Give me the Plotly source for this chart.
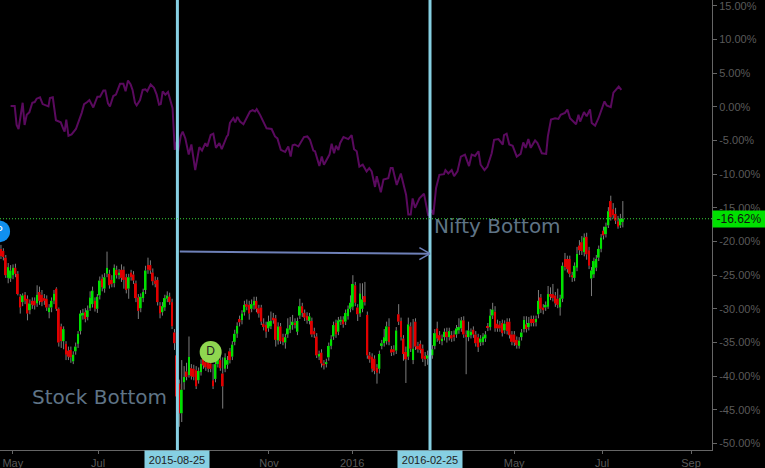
import plotly.graph_objects as go

# Candle data, percent relative to the start; one entry per session
# colour, body top, body bottom, wick high, wick low
RAW = """
R -21.1 -22.2 -20.5 -22.6|R -21.4 -22.3 -21.0 -22.8|R -22.4 -25.0 -22.0 -25.4|G -23.8 -25.4 -23.2 -26.2|G -24.3 -25.5 -23.5 -26.0
G -23.9 -25.0 -23.4 -25.6|R -23.9 -24.8 -23.3 -25.3|R -24.8 -27.8 -24.4 -28.0|R -28.2 -29.8 -27.8 -30.7|G -28.0 -29.0 -27.7 -29.6
R -27.9 -28.8 -27.5 -29.3|R -28.5 -30.7 -28.0 -31.7|G -29.2 -30.2 -28.6 -30.8|R -28.8 -29.4 -28.3 -30.0|R -28.8 -29.5 -28.3 -30.1
G -27.9 -29.2 -26.5 -29.7|R -27.5 -28.8 -26.7 -29.4|R -27.9 -29.0 -27.2 -29.6|R -28.4 -28.8 -27.8 -29.4|R -28.5 -29.8 -28.0 -30.3
G -29.8 -30.5 -29.3 -31.4|G -28.8 -29.8 -28.3 -30.5|G -27.7 -28.8 -27.2 -29.3|R -27.0 -30.0 -26.8 -30.3|R -30.0 -35.0 -29.8 -35.6
R -32.6 -34.8 -32.2 -35.8|G -33.0 -34.8 -32.6 -36.0|R -35.2 -36.8 -34.8 -37.6|R -36.2 -37.1 -35.6 -37.6|R -36.1 -37.2 -35.6 -38.0
G -36.8 -37.8 -36.3 -38.2|G -35.6 -36.3 -35.0 -36.8|G -33.7 -35.2 -33.3 -35.8|G -30.7 -33.3 -30.2 -33.8|G -30.6 -31.0 -30.0 -31.6
R -30.5 -31.5 -29.9 -32.0|G -30.2 -31.2 -29.5 -31.7|G -28.3 -29.9 -27.4 -30.3|G -27.3 -29.3 -26.7 -29.8|R -28.8 -30.0 -28.3 -30.4
G -28.2 -30.0 -27.8 -30.6|G -25.8 -28.0 -25.2 -28.6|R -25.5 -26.8 -24.9 -27.4|G -25.3 -27.0 -24.7 -27.6|G -23.9 -24.8 -21.5 -25.3
R -24.8 -26.5 -24.2 -27.0|R -25.7 -26.3 -25.0 -26.8|G -23.9 -26.2 -23.4 -26.8|R -24.2 -25.0 -23.6 -25.5|G -24.6 -25.0 -24.1 -25.6
R -24.2 -25.4 -23.4 -26.0|R -24.2 -25.7 -23.7 -27.0|R -25.3 -27.2 -24.8 -27.7|G -25.3 -27.0 -24.8 -28.5|R -24.6 -25.3 -24.2 -25.8
R -24.9 -25.8 -24.4 -26.3|R -26.2 -28.4 -25.8 -29.0|R -28.3 -30.3 -27.8 -31.5|G -28.2 -29.9 -27.7 -30.5|G -27.5 -28.4 -27.0 -29.0
G -24.3 -27.2 -23.6 -27.8|R -23.5 -24.2 -22.4 -24.8|R -23.5 -24.3 -22.8 -24.8|R -24.6 -25.9 -24.0 -26.5|R -25.8 -26.3 -25.2 -26.8
R -25.7 -29.0 -25.3 -29.5|R -29.5 -30.7 -29.0 -31.4|G -29.6 -30.5 -29.0 -31.0|G -28.4 -29.8 -27.9 -30.3|G -28.0 -28.5 -27.4 -29.0
R -28.2 -29.0 -27.6 -29.4|R -29.0 -32.6 -28.5 -33.0|R -33.5 -35.1 -33.0 -36.1|R -36.9 -43.0 -36.5 -44.0|R -41.1 -45.5 -40.5 -47.5
G -42.0 -45.5 -37.6 -46.8|G -40.1 -40.9 -38.5 -42.0|R -39.3 -40.1 -38.0 -40.6|G -37.1 -39.8 -34.1 -40.2|R -38.8 -40.0 -38.2 -40.5
R -38.9 -40.1 -38.3 -40.6|R -39.1 -41.5 -38.5 -41.9|G -39.2 -40.6 -38.7 -41.1|G -38.2 -39.4 -37.5 -39.9|R -37.3 -38.4 -36.7 -38.9
R -37.9 -38.7 -37.3 -39.2|R -37.9 -38.9 -37.3 -39.4|R -38.1 -38.9 -37.6 -39.4|R -40.6 -41.5 -38.2 -41.9|G -38.2 -40.4 -37.6 -40.9
G -36.7 -38.2 -35.9 -38.7|R -37.6 -38.8 -37.0 -39.2|R -39.6 -41.5 -37.2 -44.8|G -37.2 -38.9 -36.6 -39.4|G -37.6 -38.3 -37.0 -38.9
R -36.3 -37.6 -35.8 -38.1|G -35.3 -37.1 -34.8 -37.6|G -33.7 -34.9 -33.1 -35.4|G -32.5 -33.7 -32.0 -34.3|R -31.5 -32.0 -31.0 -32.6
G -30.7 -31.7 -30.2 -32.3|G -29.4 -30.5 -28.8 -31.0|R -29.3 -29.7 -28.6 -30.2|R -29.4 -30.7 -28.8 -31.6|G -29.3 -30.0 -28.6 -30.5
G -28.8 -29.5 -28.2 -30.1|R -28.8 -30.0 -28.2 -30.5|R -29.9 -30.7 -29.4 -31.3|R -29.8 -31.9 -29.4 -32.4|R -32.2 -32.7 -31.4 -33.2
R -32.4 -33.4 -31.9 -34.3|G -31.9 -32.9 -31.0 -33.4|G -31.8 -32.6 -30.4 -33.0|R -31.3 -31.7 -30.6 -32.2|R -31.4 -34.6 -30.9 -35.6
G -32.6 -34.7 -32.0 -35.3|R -32.6 -34.8 -32.1 -35.2|R -34.2 -34.9 -33.7 -35.4|G -34.2 -35.0 -33.7 -35.9|G -32.9 -33.8 -31.4 -34.3
G -32.4 -33.1 -31.2 -33.6|G -31.9 -32.4 -30.9 -33.1|R -32.1 -32.4 -31.4 -32.9|G -31.8 -33.4 -31.3 -33.9|G -29.6 -31.0 -28.5 -31.5
R -29.6 -30.6 -29.1 -31.2|R -30.6 -31.3 -30.1 -31.8|R -31.0 -31.7 -30.5 -32.2|G -31.1 -31.8 -30.6 -32.3|R -31.8 -33.8 -31.3 -34.2
R -33.3 -33.8 -32.8 -34.3|R -34.1 -36.9 -33.6 -37.3|G -36.7 -37.1 -36.2 -37.6|R -36.5 -38.1 -36.0 -38.7|R -38.1 -38.4 -37.6 -39.0
G -37.9 -38.2 -37.4 -38.7|G -35.5 -37.2 -35.0 -37.7|G -34.5 -35.5 -33.9 -36.0|G -32.4 -34.1 -31.9 -34.6|R -32.1 -33.8 -31.6 -34.3
G -31.7 -33.4 -31.2 -33.9|G -31.6 -31.9 -31.1 -32.4|R -31.6 -32.3 -31.1 -32.8|G -30.6 -31.9 -30.1 -32.4|G -30.0 -31.1 -29.5 -31.6
G -29.1 -30.0 -28.0 -30.5|G -26.3 -29.7 -25.0 -30.2|R -26.5 -29.1 -26.0 -29.6|R -29.8 -30.8 -29.3 -31.8|G -27.7 -30.7 -26.2 -31.2
G -28.6 -30.0 -26.2 -30.5|R -28.1 -29.0 -26.0 -29.5|R -30.9 -36.9 -30.4 -37.4|R -36.9 -37.5 -36.4 -38.0|R -37.1 -38.9 -36.6 -39.4
R -37.4 -39.2 -36.9 -39.7|R -38.7 -39.5 -38.2 -41.1|G -36.7 -38.9 -36.2 -39.6|G -35.1 -35.5 -34.6 -36.0|G -34.2 -35.1 -33.0 -35.6
G -32.6 -34.8 -31.9 -35.3|R -32.6 -34.9 -31.4 -35.4|R -36.0 -36.5 -35.5 -37.0|R -36.0 -36.4 -35.4 -36.9|G -33.2 -36.2 -32.7 -36.7
R -30.8 -31.9 -29.3 -32.4|R -31.8 -34.2 -31.3 -34.7|R -34.4 -36.7 -33.9 -37.7|R -36.4 -37.5 -35.6 -41.0|G -32.3 -37.1 -31.3 -37.6
R -32.6 -35.9 -32.0 -36.4|G -35.9 -37.6 -31.5 -38.2|R -31.9 -35.6 -31.4 -36.1|R -35.5 -36.0 -34.9 -36.5|R -35.2 -36.1 -34.7 -36.6
R -35.9 -37.4 -35.3 -37.9|R -37.0 -37.5 -36.4 -38.5|G -36.9 -37.4 -36.2 -38.3|R -36.4 -37.4 -35.7 -38.6|G -36.0 -36.9 -35.4 -37.4
G -33.6 -35.5 -33.0 -36.0|R -32.9 -34.4 -31.9 -34.9|R -33.9 -34.7 -33.3 -35.2|G -34.4 -34.8 -33.8 -35.4|G -33.4 -34.2 -32.9 -34.7
R -33.4 -34.2 -32.8 -35.0|G -33.3 -34.2 -32.8 -34.7|R -33.9 -34.4 -33.3 -34.9|R -33.8 -34.2 -33.2 -34.8|G -32.9 -33.8 -32.4 -34.3
G -32.7 -33.2 -31.4 -33.7|G -31.7 -32.9 -31.2 -33.4|R -31.7 -33.8 -31.1 -34.3|R -33.8 -34.2 -33.2 -39.7|G -33.2 -34.2 -31.9 -34.8
G -33.4 -33.9 -32.9 -34.4|R -33.1 -33.8 -32.6 -34.3|R -33.8 -35.1 -33.3 -35.6|R -34.2 -35.7 -33.7 -36.4|G -34.4 -35.0 -33.9 -35.5
G -34.1 -34.9 -33.6 -35.4|G -33.8 -34.4 -33.3 -34.9|R -32.6 -32.8 -32.1 -33.3|G -31.0 -32.7 -30.0 -33.2|G -30.1 -31.0 -29.1 -31.5
R -30.4 -32.9 -29.6 -33.4|R -32.2 -32.9 -31.6 -33.4|R -32.4 -32.9 -31.8 -33.4|R -32.1 -33.6 -31.6 -34.1|G -32.2 -33.2 -31.7 -33.7
R -31.9 -33.3 -31.4 -33.8|R -31.9 -33.9 -31.4 -34.4|R -33.8 -34.9 -33.3 -35.4|R -33.8 -35.0 -33.3 -35.5|R -34.6 -35.4 -34.1 -35.9
G -34.7 -35.5 -34.2 -35.9|G -33.5 -34.2 -33.0 -34.7|G -31.6 -33.0 -31.1 -33.5|R -32.3 -33.0 -31.1 -33.5|G -32.1 -32.7 -31.2 -33.2
R -31.5 -32.1 -31.0 -32.6|R -31.5 -32.1 -31.0 -32.6|G -31.5 -32.0 -31.0 -32.6|G -28.8 -30.8 -27.2 -31.4|R -28.3 -30.0 -27.8 -30.6
R -29.8 -30.2 -29.3 -30.8|G -29.4 -29.8 -28.9 -30.3|G -27.8 -29.7 -26.6 -30.0|R -27.8 -28.2 -26.8 -28.7|R -27.8 -28.4 -26.3 -28.9
R -28.0 -29.2 -27.5 -29.7|R -28.5 -29.4 -27.0 -29.9|G -28.4 -29.8 -27.9 -31.0|G -23.6 -28.5 -23.1 -29.0|R -22.6 -23.8 -21.7 -24.3
R -22.6 -24.1 -22.1 -24.6|R -22.6 -24.8 -22.1 -25.3|R -25.0 -25.3 -24.5 -26.0|G -23.6 -25.4 -23.1 -25.9|G -21.8 -23.9 -20.8 -24.4
R -20.6 -21.3 -19.8 -22.0|R -20.1 -21.4 -19.2 -22.0|G -19.4 -21.6 -18.8 -22.2|R -19.3 -21.9 -18.7 -22.7|R -21.3 -23.6 -20.8 -24.1
G -24.3 -25.5 -23.8 -28.1|G -22.9 -24.9 -22.4 -25.4|G -22.6 -23.9 -22.0 -24.4|G -21.1 -22.4 -20.6 -22.9|G -19.4 -21.1 -18.9 -21.6
R -18.4 -19.1 -17.8 -19.7|G -17.8 -18.9 -17.2 -19.4|G -15.5 -17.6 -14.9 -18.0|R -14.0 -16.4 -13.2 -16.9|R -15.2 -16.1 -14.3 -16.6
R -15.9 -16.9 -15.0 -17.4|R -17.0 -17.8 -16.2 -18.1|G -16.6 -17.6 -15.9 -18.0|G -16.62 -17.1 -14.0 -17.9
"""
rows = [r.split() for line in RAW.strip().splitlines() for r in line.split("|")]
direction = [r[0] for r in rows]
body_top = [float(r[1]) for r in rows]
body_bottom = [float(r[2]) for r in rows]
wick_high = [float(r[3]) for r in rows]
wick_low = [float(r[4]) for r in rows]
sessions = list(range(len(rows)))

nifty_sessions = [4.0,5.7,6.5,7.3,9.0,9.8,10.7,11.8,13.0,14.0,14.8,16.2,17.3,19.7,20.3,21.5,22.8,24.8,25.9,26.4,27.1,28.0,29.3,31.1,33.5,34.5,35.8,36.7,38.3,40.0,41.1,42.5,43.3,44.4,45.2,46.6,47.7,49.4,50.8,51.7,52.7,53.8,54.6,55.6,56.3,57.7,58.8,59.9,60.7,62.1,63.5,64.6,65.6,66.3,67.1,68.2,69.3,71.2,72.1,72.9,73.5,74.6,75.4,76.5,77.9,79.0,80.6,82.3,83.4,84.8,85.6,87.0,88.1,89.2,90.6,91.6,93.7,94.2,95.0,96.4,97.2,98.1,99.2,100.6,103.3,104.4,105.4,106.1,107.5,110.2,112.3,113.7,114.7,116.1,117.9,119.2,120.2,121.0,121.9,123.4,125.7,127.1,128.2,129.6,130.3,132.1,133.1,134.0,136.3,137.2,138.2,139.0,140.0,140.7,142.1,143.2,144.1,145.5,146.5,147.6,148.7,150.1,151.7,152.8,153.8,155.2,155.9,157.6,158.7,160.7,161.7,162.5,164.2,165.9,168.1,169.0,170.0,170.8,171.8,173.6,175.5,177.3,178.6,179.4,180.5,181.9,183.8,184.4,185.6,187.0,188.0,189.4,190.8,192.5,194.2,195.3,196.7,198.1,199.0,200.6,201.8,203.6,204.6,206.4,208.2,208.7,209.8,210.9,212.3,214.0,215.6,216.7,217.7,218.8,219.8,221.6,222.6,224.4,226.2,226.9,228.2,229.9,231.3,232.2,234.0,235.0,236.1,238.6,239.6,240.3,241.9,243.0,244.4,245.1,246.5,247.9,249.3,250.4,251.3,253.0,254.1,255.2,256.3,257.4]
nifty_values = [0.1,0.1,-2.7,-3.3,0.6,-2.7,-1.2,-0.8,0.6,0.7,1.2,1.4,0.4,0.05,1.3,1.4,-2.0,-2.3,-3.3,-3.7,-1.9,-4.3,-4.1,-3.3,-0.9,0.4,0.7,1.0,-0.1,1.5,1.5,2.4,2.4,0.5,0.05,1.6,1.8,3.4,3.4,2.3,3.9,3.3,2.5,0.6,0.2,1.0,2.5,2.6,2.3,3.3,2.8,1.8,0.3,0.4,2.3,1.8,2.2,-0.2,-6.4,-5.2,-6.6,-4.3,-3.7,-4.7,-7.1,-5.6,-9.4,-6.0,-6.5,-5.4,-5.9,-4.2,-4.0,-6.1,-5.4,-6.3,-4.4,-4.2,-2.4,-1.7,-2.3,-1.5,-2.2,-2.6,-0.7,-0.5,-0.7,-0.35,-1.2,-3.2,-3.3,-4.4,-4.7,-6.4,-6.7,-5.9,-7.4,-5.7,-5.6,-5.9,-4.5,-4.4,-4.9,-6.5,-6.6,-8.8,-7.4,-8.6,-7.1,-5.5,-6.9,-5.8,-6.4,-5.4,-4.5,-4.7,-4.8,-4.2,-6.3,-6.6,-8.9,-8.6,-9.6,-9.1,-9.6,-11.9,-10.3,-12.7,-10.8,-10.6,-9.1,-9.1,-11.6,-9.9,-13.1,-16.0,-16.0,-13.6,-15.0,-13.6,-12.9,-16.2,-15.3,-16.0,-12.1,-10.1,-10.0,-9.4,-9.9,-9.4,-10.3,-9.6,-7.4,-7.1,-8.8,-7.1,-7.3,-6.6,-8.6,-9.4,-8.9,-6.9,-4.9,-4.8,-5.6,-4.2,-4.0,-5.6,-5.8,-7.4,-7.0,-5.3,-6.1,-4.8,-6.1,-5.0,-5.4,-6.9,-7.0,-4.4,-1.9,-1.7,-1.8,-1.2,-0.9,-0.4,-1.7,-2.6,-1.2,-2.2,-0.8,-1.4,-0.4,-2.4,-2.8,-1.7,-0.2,0.8,0.2,-0.05,2.1,2.5,3.0,2.5]

x_tick_sessions = [4.9, 40.3, 73.2, 111.2, 145.7, 178.0, 212.9, 249.4, 286.3]
x_tick_labels = ["May", "Jul", "", "Nov", "2016", "", "May", "Jul", "Sep"]
y_tick_values = [15, 10, 5, 0, -5, -10, -15, -20, -25, -30, -35, -40, -45, -50]
y_tick_labels = ["15.00%", "10.00%", "5.00%", "0.00%", "-5.00%", "-10.00%", "-15.00%", "-20.00%",
                 "-25.00%", "-30.00%", "-35.00%", "-40.00%", "-45.00%", "-50.00%"]
stock_bottom, nifty_bottom = 73.2, 178.0
last_value = -16.62

GREEN, RED, WICK, VLINE, AXIS = "#00e000", "#e00000", "#7d7d7d", "#86cfe2", "#666666"
TEXT = "#5f7486"

wick_x, wick_y = [], []
for s, hi, top, bot, lo in zip(sessions, wick_high, body_top, body_bottom, wick_low):
    wick_x += [s, s, None, s, s, None]
    wick_y += [hi, top, None, bot, lo, None]

fig = go.Figure()
fig.add_trace(go.Bar(
    x=sessions, base=body_bottom, y=[t - b for t, b in zip(body_top, body_bottom)],
    width=0.8, marker=dict(color=[GREEN if d == "G" else RED for d in direction], line=dict(width=0)),
    hoverinfo="skip", showlegend=False))
fig.add_trace(go.Scatter(
    x=wick_x, y=wick_y, mode="lines", line=dict(color=WICK, width=1),
    connectgaps=False, hoverinfo="skip", showlegend=False))
fig.add_trace(go.Scatter(
    x=nifty_sessions, y=nifty_values, mode="lines",
    line=dict(color="#5a0a5e", width=2), hoverinfo="skip", showlegend=False))
fig.add_trace(go.Scatter(
    x=[-0.8, 87], y=[-18.5, -36.4], mode="markers+text", text=["P", "D"],
    textposition="middle center", textfont=dict(size=[11, 12], color=["#ffffff", "#222222"], family="Liberation Sans"),
    marker=dict(size=22, color=["#1090f0", "#8fd650"], line=dict(width=0)),
    hoverinfo="skip", showlegend=False))

shapes = [
    dict(type="line", xref="x", yref="paper", x0=s, x1=s, y0=0, y1=1, layer="above",
         line=dict(color=VLINE, width=3)) for s in (stock_bottom, nifty_bottom)
]
shapes.append(dict(type="line", xref="paper", yref="y", x0=0, x1=1, y0=last_value, y1=last_value,
                   layer="above", line=dict(color="#39d439", width=1, dash="1px,2px")))
arrow = "#6e80b8"
shapes += [
    dict(type="line", xref="x", yref="y", x0=stock_bottom + 1, x1=nifty_bottom, y0=-21.5, y1=-21.8,
         layer="above", line=dict(color=arrow, width=2)),
    dict(type="line", xref="x", yref="y", x0=nifty_bottom - 4.4, x1=nifty_bottom, y0=-20.9, y1=-21.8,
         layer="above", line=dict(color=arrow, width=1.5)),
    dict(type="line", xref="x", yref="y", x0=nifty_bottom - 4.4, x1=nifty_bottom, y0=-22.7, y1=-21.8,
         layer="above", line=dict(color=arrow, width=1.5)),
]

date_box = dict(yref="paper", y=0, yanchor="top", xref="x", showarrow=False, width=64, height=18,
                bgcolor=VLINE, font=dict(size=11, color="#222222", family="Liberation Sans"), borderpad=0)
annotations = [
    dict(x=stock_bottom, text="2015-08-25", **date_box),
    dict(x=nifty_bottom, text="2016-02-25", **date_box),
    dict(x=40.7, y=-43.1, xref="x", yref="y", text="Stock Bottom", showarrow=False,
         font=dict(family="DejaVu Sans", size=20, color=TEXT)),
    dict(x=206, y=-17.7, xref="x", yref="y", text="Nifty Bottom", showarrow=False,
         font=dict(family="DejaVu Sans", size=20, color=TEXT)),
    dict(x=1, y=last_value, xref="paper", yref="y", xanchor="left", text="-16.62%", showarrow=False,
         width=52, height=16, bgcolor="#00e000", borderpad=0,
         font=dict(size=12, color="#111111", family="Liberation Sans")),
]

fig.update_layout(
    width=765, height=468, autosize=False,
    margin=dict(l=0, r=53, t=0, b=18),
    paper_bgcolor="#000000", plot_bgcolor="#000000",
    showlegend=False, barmode="overlay",
    shapes=shapes, annotations=annotations,
    font=dict(family="Liberation Sans", size=11, color=AXIS),
    xaxis=dict(range=[-0.4, 295.0], tickmode="array",
               tickvals=x_tick_sessions, ticktext=x_tick_labels, ticks="outside", ticklen=3,
               tickcolor=AXIS, showgrid=False, zeroline=False, showline=True, linecolor=AXIS,
               ticklabeloverflow="allow", tickfont=dict(size=11, color="#5a5a5a")),
    yaxis=dict(range=[-50.95, 15.85], side="right", tickmode="array", tickvals=y_tick_values,
               ticktext=y_tick_labels, ticks="outside", ticklen=4, tickcolor=AXIS, showgrid=False,
               zeroline=False, showline=True, linecolor=AXIS, ticklabeloverflow="allow",
               tickfont=dict(size=11, color="#5a5a5a")),
)
fig.write_html("out.html", config=dict(displayModeBar=False),
               post_script="document.body.style.margin='0';")
